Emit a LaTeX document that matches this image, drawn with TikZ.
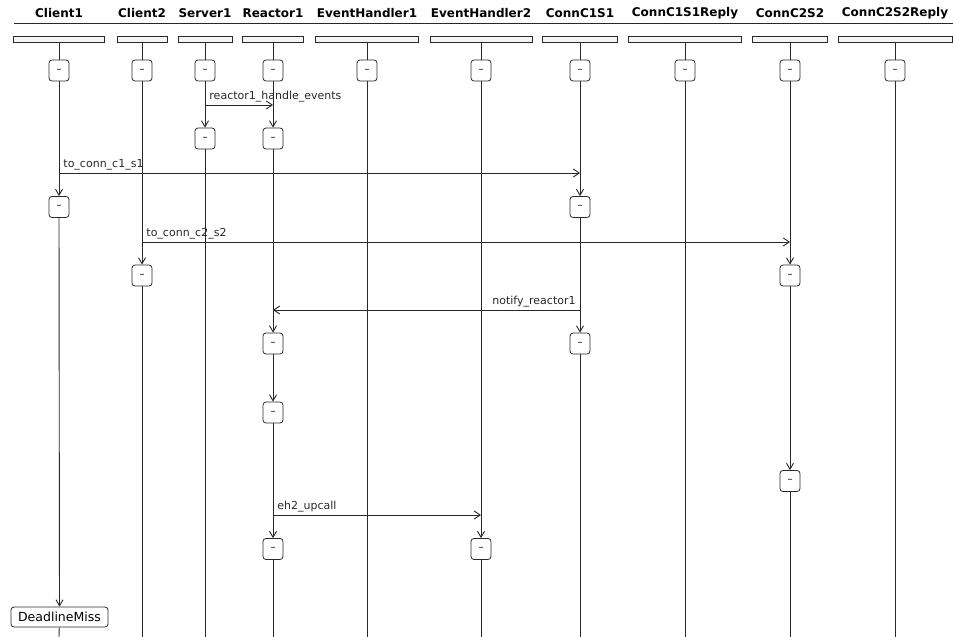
\documentclass[tikz,border=0pt]{standalone}
\usepackage{fontspec}
\setmainfont{DejaVu Sans}
\usetikzlibrary{arrows.meta}
\definecolor{lineblack}{RGB}{40,40,40}

\begin{document}
\begin{tikzpicture}[
    x=1pt, y=-1pt,
    head/.style={font=\fontsize{12}{12}\selectfont\bfseries, inner sep=0pt},
    lbar/.style={draw=lineblack, fill=gray!8, minimum height=6pt, inner sep=0pt, line width=0.8pt},
    act/.style={draw=lineblack, rounded corners=3pt, minimum width=20pt, minimum height=21pt, inner sep=0pt, font=\fontsize{10}{10}\selectfont, line width=0.8pt},
    life/.style={draw=lineblack, line width=0.9pt},
    msg/.style={draw=lineblack, line width=0.9pt, -{Straight Barb[length=6pt,width=8pt]}},
    lbl/.style={font=\fontsize{11}{11}\selectfont, inner sep=2pt, text=lineblack},
    >={Straight Barb[length=6pt,width=7pt]}
]
\useasboundingbox (0,0) rectangle (953,637);

% Headers
\node[head] (c1h) at (59,13) {Client1};
\node[head] (c2h) at (142,13) {Client2};
\node[head] (s1h) at (205,13) {Server1};
\node[head] (r1h) at (273,13) {Reactor1};
\node[head] (e1h) at (367,13) {EventHandler1};
\node[head] (e2h) at (481,13) {EventHandler2};
\node[head] (k1h) at (580,13) {ConnC1S1};
\node[head] (k1rh) at (685,13) {ConnC1S1Reply};
\node[head] (k2h) at (790,13) {ConnC2S2};
\node[head] (k2rh) at (895,13) {ConnC2S2Reply};
\coordinate (rulel) at (14,23);
\coordinate (ruler) at (953,23);
\draw[life] (rulel) -- (ruler);

% Lifeline bars
\node[lbar, minimum width=91pt] (c1bar) at (59,39.5) {};
\node[lbar, minimum width=50pt] (c2bar) at (142,39.5) {};
\node[lbar, minimum width=54pt] (s1bar) at (205,39.5) {};
\node[lbar, minimum width=61pt] (r1bar) at (273,39.5) {};
\node[lbar, minimum width=103pt] (e1bar) at (367,39.5) {};
\node[lbar, minimum width=102pt] (e2bar) at (481,39.5) {};
\node[lbar, minimum width=75pt] (k1bar) at (580,39.5) {};
\node[lbar, minimum width=113pt] (k1rbar) at (685,39.5) {};
\node[lbar, minimum width=75pt] (k2bar) at (790,39.5) {};
\node[lbar, minimum width=114pt] (k2rbar) at (895,39.5) {};

% Activations
\node[act] (c1a0) at (59,70.5) {--};
\node[act] (c2a0) at (142,70.5) {--};
\node[act] (s1a0) at (205,70.5) {--};
\node[act] (r1a0) at (273,70.5) {--};
\node[act] (e1a0) at (367,70.5) {--};
\node[act] (e2a0) at (481,70.5) {--};
\node[act] (k1a0) at (580,70.5) {--};
\node[act] (k1ra0) at (685,70.5) {--};
\node[act] (k2a0) at (790,70.5) {--};
\node[act] (k2ra0) at (895,70.5) {--};

\node[act] (s1a1) at (205,138.5) {--};
\node[act] (r1a1) at (273,138.5) {--};
\node[act] (c1a1) at (59,207) {--};
\node[act] (k1a1) at (580,207) {--};
\node[act] (c2a1) at (142,275.5) {--};
\node[act] (k2a1) at (790,275.5) {--};
\node[act] (r1a2) at (273,343.5) {--};
\node[act] (k1a2) at (580,343.5) {--};
\node[act] (r1a3) at (273,412.5) {--};
\node[act] (k2a2) at (790,481) {--};
\node[act] (r1a4) at (273,549) {--};
\node[act] (e2a1) at (481,549) {--};
\node[act, minimum width=97pt, minimum height=20pt, font=\fontsize{12.5}{12.5}\selectfont] (c1dm) at (59.5,617) {DeadlineMiss};

% Lifeline ends
\coordinate (c1end) at (59,637);
\coordinate (c2end) at (142,637);
\coordinate (s1end) at (205,637);
\coordinate (r1end) at (273,637);
\coordinate (e1end) at (367,637);
\coordinate (e2end) at (481,637);
\coordinate (k1end) at (580,637);
\coordinate (k1rend) at (685,637);
\coordinate (k2end) at (790,637);
\coordinate (k2rend) at (895,637);

% Lifelines
\draw[life] (c1bar) -- (c1a0);
\draw[life] (c2bar) -- (c2a0);
\draw[life] (s1bar) -- (s1a0);
\draw[life] (r1bar) -- (r1a0);
\draw[life] (e1bar) -- (e1a0);
\draw[life] (e2bar) -- (e2a0);
\draw[life] (k1bar) -- (k1a0);
\draw[life] (k1rbar) -- (k1ra0);
\draw[life] (k2bar) -- (k2a0);
\draw[life] (k2rbar) -- (k2ra0);

\draw[life, ->] (c1a0) -- (c1a1);
\draw[life, ->] (c1a1) -- (c1dm);
\draw[life] (c1dm) -- (c1end);
\draw[life, ->] (c2a0) -- (c2a1);
\draw[life] (c2a1) -- (c2end);
\draw[life, ->] (s1a0) -- (s1a1);
\draw[life] (s1a1) -- (s1end);
\draw[life, ->] (r1a0) -- (r1a1);
\draw[life, ->] (r1a1) -- (r1a2);
\draw[life, ->] (r1a2) -- (r1a3);
\draw[life, ->] (r1a3) -- (r1a4);
\draw[life] (r1a4) -- (r1end);
\draw[life] (e1a0) -- (e1end);
\draw[life, ->] (e2a0) -- (e2a1);
\draw[life] (e2a1) -- (e2end);
\draw[life, ->] (k1a0) -- (k1a1);
\draw[life, ->] (k1a1) -- (k1a2);
\draw[life] (k1a2) -- (k1end);
\draw[life] (k1ra0) -- (k1rend);
\draw[life, ->] (k2a0) -- (k2a1);
\draw[life, ->] (k2a1) -- (k2a2);
\draw[life] (k2a2) -- (k2end);
\draw[life] (k2ra0) -- (k2rend);

% Messages
\coordinate (y1) at (0,105);
\coordinate (y2) at (0,173);
\coordinate (y3) at (0,242);
\coordinate (y4) at (0,310);
\coordinate (y5) at (0,515);
\draw[msg] (s1a0 |- y1) -- node[lbl, pos=0, above right, xshift=2pt] {reactor1\_handle\_events} (r1a0 |- y1);
\draw[msg] (c1a0 |- y2) -- node[lbl, pos=0, above right, xshift=2pt] {to\_conn\_c1\_s1} (k1a0 |- y2);
\draw[msg] (c2a0 |- y3) -- node[lbl, pos=0, above right, xshift=2pt] {to\_conn\_c2\_s2} (k2a0 |- y3);
\draw[msg] (k1a1 |- y4) -- node[lbl, pos=0, above left, xshift=-2pt] {notify\_reactor1} (r1a1 |- y4);
\draw[msg] (r1a3 |- y5) -- node[lbl, pos=0, above right, xshift=2pt] {eh2\_upcall} (e2a0 |- y5);

\end{tikzpicture}
\end{document}
